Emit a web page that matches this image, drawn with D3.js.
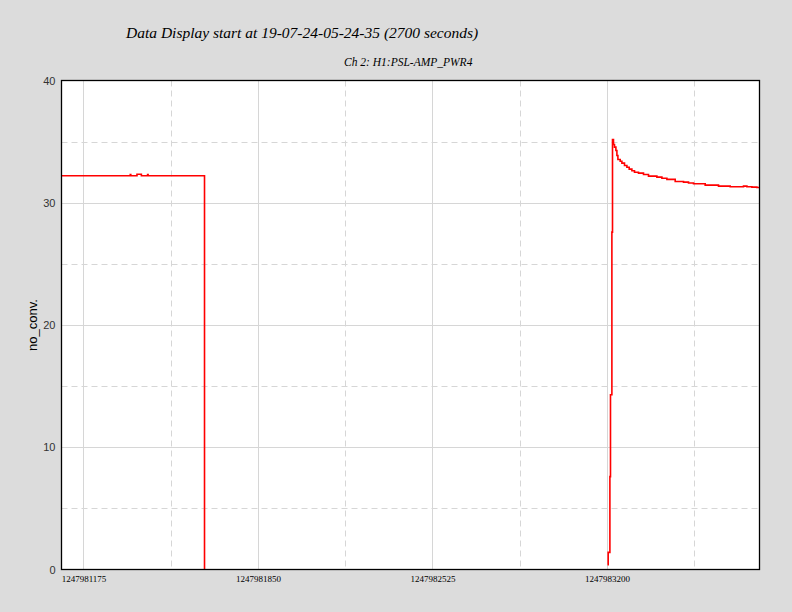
<!DOCTYPE html>
<html><head><meta charset="utf-8">
<script src="https://cdn.jsdelivr.net/npm/d3@7"></script>
<style>html,body{margin:0;padding:0;background:#dcdcdc;}svg{display:block;}</style>
</head><body>
<script>
const titleText = "Data Display start at 19-07-24-05-24-35 (2700 seconds)";
const subtitleText = "Ch 2: H1:PSL-AMP_PWR4";
const yLabel = "no_conv.";
const startGPS = 1247981090;
const spanSeconds = 2700;
const xMajorTicks = [1247981175, 1247981850, 1247982525, 1247983200];
const xMinorTicks = [1247981512.5, 1247982187.5, 1247982862.5, 1247983537.5];
const yMajorTicks = [0, 10, 20, 30, 40];
const yMinorTicks = [5, 15, 25, 35];

// segment 1 (seconds after start, value)
const seg1Offsets = [0, 266, 268, 292, 309, 333, 335, 553, 553.2];
const seg1Values  = [32.21, 32.3, 32.21, 32.33, 32.21, 32.3, 32.21, 32.21, 0];
// segment 2
const seg2Offsets = [2112, 2114.7, 2121.3, 2123.6, 2129, 2131.4, 2135.2, 2139.1, 2144.5, 2148.4, 2152.3, 2161.2, 2167.7, 2177.8, 2187.1, 2196, 2206.4, 2216.5, 2231.9, 2251.3, 2270.6, 2303.1, 2322.5, 2341.8, 2373.9, 2406, 2425.4, 2444.7, 2489.9, 2541.4, 2586.6, 2638.1, 2651.3, 2670.6, 2689.9, 2700];
const seg2Values  = [0.4, 1.4, 7.6, 14.3, 27.6, 35.16, 34.77, 34.55, 34.28, 33.87, 33.54, 33.4, 33.24, 33.05, 32.91, 32.75, 32.62, 32.5, 32.42, 32.31, 32.18, 32.1, 32.01, 31.91, 31.74, 31.69, 31.61, 31.55, 31.44, 31.36, 31.31, 31.36, 31.31, 31.28, 31.25, 31.25];

const W = 792, H = 612;
const L = 61.5, R = 759.5, T = 80.5, B = 569.5;
const svg = d3.select("body").append("svg").attr("width", W).attr("height", H);
svg.append("rect").attr("width", W).attr("height", H).attr("fill", "#dcdcdc");

const x = d3.scaleLinear().domain([startGPS, startGPS + spanSeconds]).range([L, R]);
const y = d3.scaleLinear().domain([0, 40]).range([B, T]);

svg.append("rect").attr("x", L).attr("y", T).attr("width", R - L).attr("height", B - T).attr("fill", "#fff");

const grid = svg.append("g").attr("stroke", "#d6d6d6").attr("stroke-width", 1);
grid.selectAll(".vmaj").data(xMajorTicks).join("line")
  .attr("x1", d => Math.round(x(d)) + 0.5).attr("x2", d => Math.round(x(d)) + 0.5).attr("y1", T).attr("y2", B);
grid.selectAll(".vmin").data(xMinorTicks).join("line")
  .attr("x1", d => Math.round(x(d)) + 0.5).attr("x2", d => Math.round(x(d)) + 0.5).attr("y1", T).attr("y2", B)
  .attr("stroke-dasharray", "6,4");
grid.selectAll(".hmaj").data(yMajorTicks.slice(1, -1)).join("line")
  .attr("y1", d => Math.round(y(d)) + 0.5).attr("y2", d => Math.round(y(d)) + 0.5).attr("x1", L).attr("x2", R);
grid.selectAll(".hmin").data(yMinorTicks).join("line")
  .attr("y1", d => Math.round(y(d)) + 0.5).attr("y2", d => Math.round(y(d)) + 0.5).attr("x1", L).attr("x2", R)
  .attr("stroke-dasharray", "6,4");

const line = d3.line().x(d => x(startGPS + d[0])).y(d => y(d[1])).curve(d3.curveStepAfter);
const seg1 = seg1Offsets.map((t, i) => [t, seg1Values[i]]);
const seg2 = seg2Offsets.map((t, i) => [t, seg2Values[i]]);
const lines = svg.append("g").attr("fill", "none").attr("stroke", "#ff0000").attr("stroke-width", 1.6);
lines.append("path").attr("d", line(seg1));
lines.append("path").attr("d", line(seg2));

svg.append("rect").attr("x", L).attr("y", T).attr("width", R - L).attr("height", B - T)
  .attr("fill", "none").attr("stroke", "#000").attr("stroke-width", 1.3);

// axes
const yAxis = d3.axisLeft(y).tickValues(yMajorTicks).tickSize(0).tickPadding(6).tickFormat(d3.format("d"));
const gy = svg.append("g").attr("transform", `translate(${L},0)`).call(yAxis);
gy.select(".domain").remove();
gy.selectAll("text").attr("font-family", "'Liberation Sans', Arial, sans-serif").attr("font-size", 11).attr("fill", "#333");

const xAxis = d3.axisBottom(x).tickValues(xMajorTicks).tickSize(0).tickPadding(6).tickFormat(d3.format("d"));
const gx = svg.append("g").attr("transform", `translate(0,${B})`).call(xAxis);
gx.select(".domain").remove();
gx.selectAll("text").attr("font-family", "'Liberation Serif', 'Times New Roman', serif").attr("font-size", 9).attr("fill", "#000");

svg.append("text").attr("x", 126).attr("y", 38).text(titleText)
  .attr("font-family", "'Liberation Serif', 'Times New Roman', serif").attr("font-style", "italic").attr("font-size", 15.5).attr("fill", "#000");
svg.append("text").attr("x", 344).attr("y", 66).text(subtitleText)
  .attr("font-family", "'Liberation Serif', 'Times New Roman', serif").attr("font-style", "italic").attr("font-size", 11.5).attr("fill", "#000");
svg.append("text").attr("transform", "translate(37,325) rotate(-90)").attr("text-anchor", "middle").text(yLabel)
  .attr("font-family", "'Liberation Sans', Arial, sans-serif").attr("font-size", 13).attr("fill", "#000");
</script>
</body></html>
